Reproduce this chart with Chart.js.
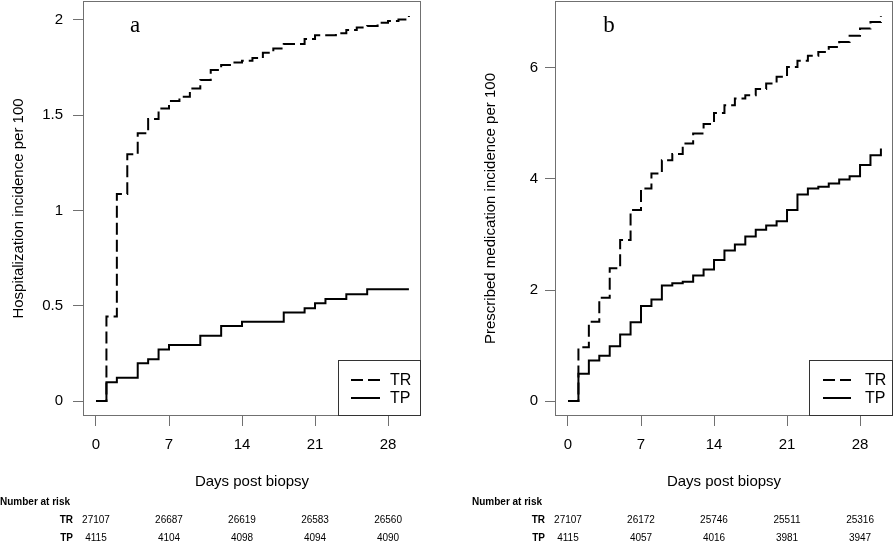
<!DOCTYPE html>
<html><head><meta charset="utf-8">
<script src="https://cdn.jsdelivr.net/npm/chart.js@4.4.1/dist/chart.umd.min.js"></script>
<style>
html,body{margin:0;padding:0;background:#fff;}
#wrap{position:relative;width:894px;height:543px;overflow:hidden;background:#fff;}
canvas{position:absolute;top:0;}
</style></head><body>
<div id="wrap">
<canvas id="ca" width="447" height="543" style="left:0"></canvas>
<canvas id="cb" width="447" height="543" style="left:447px"></canvas>
</div>
<script>
// ---- data ----
const days = [0,1,2,3,4,5,6,7,8,9,10,11,12,13,14,15,16,17,18,19,20,21,22,23,24,25,26,27,28,29,30];
const seriesNames = ['TR', 'TP'];
// panel a: hospitalization incidence per 100
const hospTR = [0,0.443,1.087,1.295,1.405,1.48,1.536,1.575,1.597,1.641,1.685,1.738,1.764,1.777,1.786,1.80,1.828,1.85,1.874,1.874,1.90,1.92,1.92,1.93,1.947,1.96,1.969,1.986,1.995,2.003,2.021];
const hospTP = [0,0.098,0.122,0.122,0.198,0.219,0.271,0.294,0.294,0.294,0.343,0.343,0.394,0.394,0.416,0.416,0.416,0.416,0.464,0.464,0.487,0.513,0.535,0.535,0.56,0.56,0.586,0.586,0.586,0.586,0.586];
// panel b: prescribed medication incidence per 100
const medTR = [0,0.967,1.429,1.86,2.39,2.90,3.44,3.83,4.10,4.34,4.45,4.64,4.82,4.99,5.19,5.33,5.45,5.51,5.62,5.72,5.84,6.02,6.13,6.22,6.29,6.38,6.47,6.58,6.71,6.83,6.93];
const medTP = [0,0.49,0.73,0.815,0.985,1.20,1.42,1.71,1.83,2.08,2.12,2.15,2.26,2.37,2.54,2.71,2.82,2.965,3.085,3.16,3.24,3.44,3.72,3.83,3.86,3.92,3.99,4.05,4.25,4.43,4.55];
// axis ticks
const xTicks = [0, 7, 14, 21, 28];
const yTicksA = [0, 0.5, 1, 1.5, 2];
const yTicksB = [0, 2, 4, 6];
// number at risk
const riskTR_A = [27107, 26687, 26619, 26583, 26560];
const riskTP_A = [4115, 4104, 4098, 4094, 4090];
const riskTR_B = [27107, 26172, 25746, 25511, 25316];
const riskTP_B = [4115, 4057, 4016, 3981, 3947];

const SANS = '"Liberation Sans", Arial, sans-serif';
const SERIF = '"Liberation Serif", "Times New Roman", serif';

const decor = {
  id: 'decor',
  afterDraw(chart, args, o) {
    const {ctx, chartArea: ca, scales} = chart;
    ctx.save();
    ctx.strokeStyle = '#707070'; ctx.lineWidth = 1;
    ctx.strokeRect(ca.left + 0.5, ca.top + 0.5, ca.right - ca.left - 1, ca.bottom - ca.top - 1);
    // legend
    const lx = ca.right - o.legW, ly = ca.bottom - o.legH;
    ctx.fillStyle = '#fff'; ctx.fillRect(lx, ly, o.legW, o.legH - 1);
    ctx.strokeStyle = '#333'; ctx.strokeRect(lx + 0.5, ly + 0.5, o.legW - 1, o.legH - 1);
    ctx.strokeStyle = '#000'; ctx.lineWidth = 2;
    const rows = [ly + 20, ly + 38];
    rows.forEach((ry, i) => {
      ctx.setLineDash(i === 0 ? [12, 5] : []);
      ctx.beginPath(); ctx.moveTo(lx + o.lineX0, ry); ctx.lineTo(lx + o.lineX1, ry); ctx.stroke();
    });
    ctx.setLineDash([]);
    ctx.fillStyle = '#000'; ctx.font = '16px ' + SANS; ctx.textAlign = 'left'; ctx.textBaseline = 'middle';
    rows.forEach((ry, i) => ctx.fillText(seriesNames[i], lx + o.textX, ry + 1));
    // panel letter
    ctx.font = '23px ' + SERIF; ctx.textAlign = 'center'; ctx.textBaseline = 'alphabetic';
    ctx.fillText(o.letter, ca.left + o.letterX, 32);
    // number at risk table
    ctx.textBaseline = 'middle';
    ctx.font = 'bold 10px ' + SANS; ctx.textAlign = 'left';
    ctx.fillText('Number at risk', ca.left - 83, 502);
    ctx.textAlign = 'right';
    ctx.fillText(seriesNames[0], ca.left - 10, 520);
    ctx.fillText(seriesNames[1], ca.left - 10, 538);
    ctx.font = '10px ' + SANS; ctx.textAlign = 'center';
    xTicks.forEach((d, i) => {
      const px = scales.x.getPixelForValue(d);
      ctx.fillText(String(o.riskTR[i]), px, 520);
      ctx.fillText(String(o.riskTP[i]), px, 538);
    });
    ctx.restore();
  }
};

function pts(vals) { return days.map((d, i) => ({x: d, y: vals[i]})); }
function noPad(s) { s.paddingTop = 0; s.paddingBottom = 0; s.paddingLeft = 0; s.paddingRight = 0; }

function makePanel(id, p) {
  return new Chart(document.getElementById(id), {
    type: 'line',
    data: {
      datasets: [
        {label: seriesNames[0], data: pts(p.tr), borderColor: '#000', borderWidth: 2, borderDash: [12, 5], stepped: true, pointRadius: 0, fill: false},
        {label: seriesNames[1], data: pts(p.tp), borderColor: '#000', borderWidth: 2, stepped: true, pointRadius: 0, fill: false}
      ]
    },
    options: {
      responsive: false, animation: false, devicePixelRatio: 1,
      layout: {padding: {left: 0, right: p.padRight, top: 1, bottom: 0}},
      plugins: {legend: {display: false}, tooltip: {enabled: false}, decor: p.decor},
      scales: {
        x: {
          type: 'linear', min: -1.246, max: 31.16,
          afterBuildTicks: s => { s.ticks = xTicks.map(v => ({value: v})); },
          afterFit: s => { s.height = 127; noPad(s); },
          grid: {drawOnChartArea: false, drawTicks: true, tickLength: 10, tickColor: '#707070', tickWidth: 1},
          border: {display: false},
          ticks: {color: '#000', font: {family: SANS, size: 15}, padding: 10, maxRotation: 0, callback: v => String(v)},
          title: {display: true, text: 'Days post biopsy', color: '#000', font: {family: SANS, size: 15}, padding: {top: 0, bottom: 52}}
        },
        y: {
          type: 'linear', min: p.ymin, max: p.ymax,
          afterBuildTicks: s => { s.ticks = p.yTicks.map(v => ({value: v})); },
          afterFit: s => { s.width = p.yWidth; noPad(s); },
          grid: {drawOnChartArea: false, drawTicks: true, tickLength: 10, tickColor: '#707070', tickWidth: 1},
          border: {display: false},
          ticks: {color: '#000', font: {family: SANS, size: 15}, padding: p.yPad, callback: v => String(v)},
          title: {display: true, text: p.yTitle, color: '#000', font: {family: SANS, size: 15}, padding: {top: p.yTitlePad, bottom: 0}}
        }
      }
    },
    plugins: [decor]
  });
}

makePanel('ca', {
  tr: hospTR, tp: hospTP, yTicks: yTicksA, ymin: -0.0787, ymax: 2.0997,
  yWidth: 83, padRight: 26, yPad: 10, yTitlePad: 10,
  yTitle: 'Hospitalization incidence per 100',
  decor: {legW: 83, legH: 56, lineX0: 13, lineX1: 42, textX: 52, letter: 'a', letterX: 52, riskTR: riskTR_A, riskTP: riskTP_A}
});
makePanel('cb', {
  tr: medTR, tp: medTP, yTicks: yTicksB, ymin: -0.270, ymax: 7.207,
  yWidth: 108, padRight: 1, yPad: 7, yTitlePad: 35,
  yTitle: 'Prescribed medication incidence per 100',
  decor: {legW: 84, legH: 56, lineX0: 14, lineX1: 42, textX: 56, letter: 'b', letterX: 54, riskTR: riskTR_B, riskTP: riskTP_B}
});
</script>
</body></html>
